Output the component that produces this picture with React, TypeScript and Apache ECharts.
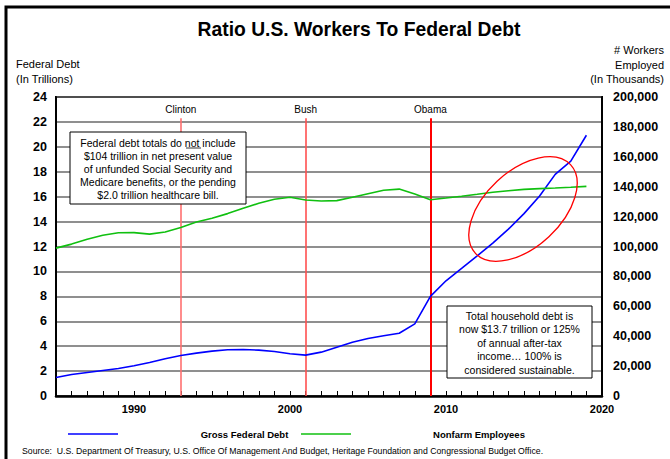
import React, { useEffect, useRef } from "react";
import * as echarts from "echarts";

const years = [1985, 1986, 1987, 1988, 1989, 1990, 1991, 1992, 1993, 1994, 1995, 1996, 1997, 1998, 1999, 2000, 2001, 2002, 2003, 2004, 2005, 2006, 2007, 2008, 2009, 2010, 2011, 2012, 2013, 2014, 2015, 2016, 2017, 2018, 2019];
// Gross federal debt, trillions
const debt = [1.49, 1.73, 1.89, 2.05, 2.21, 2.43, 2.69, 2.99, 3.25, 3.44, 3.6, 3.71, 3.73, 3.68, 3.57, 3.39, 3.28, 3.52, 3.92, 4.32, 4.61, 4.83, 5.04, 5.79, 8.0, 9.25, 10.24, 11.25, 12.27, 13.39, 14.64, 16.05, 17.79, 18.85, 20.93];
// Nonfarm employees, thousands
const employees = [98900, 101600, 104900, 107500, 109200, 109300, 108300, 109700, 112700, 116400, 118900, 122000, 125600, 128900, 131600, 132900, 131100, 130400, 130700, 132900, 135300, 137600, 138400, 135100, 131300, 132400, 133600, 134900, 136300, 137300, 138200, 138700, 139100, 139600, 140200];

const presidents = ["Clinton", "Bush", "Obama"];
const presidentYears = [1993, 2001, 2009];
const presidentColors = ["#ff7070", "#ff5050", "#ff0000"];

const seriesNames = ["Gross Federal Debt", "Nonfarm Employees"];
const FONT = "'Liberation Sans', Arial, sans-serif";

export default function App() {
  const ref = useRef<HTMLDivElement>(null);
  useEffect(() => {
    if (!ref.current) return;
    const chart = echarts.init(ref.current, undefined, { renderer: "svg" });
    const debtData = years.map((y, i) => [y, debt[i]]);
    const empData = years.map((y, i) => [y, employees[i]]);
    const markData = presidents.map((p, i) => [
      {
        name: p,
        coord: [presidentYears[i], 0],
        lineStyle: { color: presidentColors[i], width: i === 2 ? 2 : 1.6, type: "solid" },
      },
      { coord: [presidentYears[i], 22.3] },
    ]);
    chart.setOption({
      animation: false,
      backgroundColor: "#fff",
      textStyle: { fontFamily: FONT },
      grid: {
        left: 56,
        right: 68,
        top: 97,
        bottom: 63,
        show: true,
        borderColor: "#000",
        borderWidth: 2,
        backgroundColor: "transparent",
      },
      xAxis: {
        type: "value",
        min: 1985,
        max: 2020,
        interval: 1,
        axisLine: { lineStyle: { color: "#000", width: 2.5 } },
        axisTick: { show: true, inside: true, length: 5, lineStyle: { color: "#000", width: 1 } },
        splitLine: { show: false },
        axisLabel: {
          fontFamily: FONT,
          fontWeight: "bold",
          fontSize: 11,
          color: "#000",
          margin: 7,
          showMinLabel: true,
          showMaxLabel: true,
          formatter: (v: number) => (v % 10 === 0 ? String(v) : ""),
        },
      },
      yAxis: [
        {
          type: "value",
          min: 0,
          max: 24,
          interval: 2,
          axisLine: { show: true, lineStyle: { color: "#000", width: 2 } },
          axisTick: { show: false },
          splitLine: { show: true, lineStyle: { color: "#6a6a6a", width: 1.6 } },
          axisLabel: { fontFamily: FONT, fontWeight: "bold", fontSize: 12.5, color: "#000", margin: 9 },
        },
        {
          type: "value",
          min: 0,
          max: 200000,
          interval: 20000,
          position: "right",
          axisLine: { show: true, lineStyle: { color: "#000", width: 2 } },
          axisTick: { show: false },
          splitLine: { show: false },
          axisLabel: {
            fontFamily: FONT,
            fontWeight: "bold",
            fontSize: 12.5,
            color: "#000",
            margin: 11,
            formatter: (v: number) => v.toLocaleString("en-US"),
          },
        },
      ],
      series: [
        {
          name: seriesNames[0],
          type: "line",
          yAxisIndex: 0,
          data: debtData,
          showSymbol: false,
          symbol: "none",
          lineStyle: { color: "#0000ff", width: 1.6 },
          z: 4,
          markLine: {
            silent: true,
            symbol: ["none", "none"],
            z: 1,
            label: {
              show: true,
              position: "end",
              formatter: "{b}",
              fontFamily: FONT,
              fontSize: 10,
              color: "#000",
              distance: 4,
            },
            data: markData,
          },
        },
        {
          name: seriesNames[1],
          type: "line",
          yAxisIndex: 1,
          data: empData,
          showSymbol: false,
          symbol: "none",
          lineStyle: { color: "#10c010", width: 1.6 },
          z: 4,
        },
      ],
      graphic: [
        {
          type: "rect",
          shape: { x: 6, y: 7, width: 700, height: 480 },
          style: { fill: "none", stroke: "#000", lineWidth: 3 },
          z: 100,
          silent: true,
        },
        {
          type: "text",
          x: 359,
          y: 29,
          style: {
            text: "Ratio U.S. Workers To Federal Debt",
            fontFamily: FONT,
            fontWeight: "bold",
            fontSize: 19.3,
            fill: "#000",
            textAlign: "center",
            textVerticalAlign: "middle",
          },
        },
        {
          type: "text",
          x: 16,
          y: 71.5,
          style: {
            text: "Federal Debt\n(In Trillions)",
            fontFamily: FONT,
            fontSize: 11,
            lineHeight: 15,
            fill: "#000",
            textAlign: "left",
            textVerticalAlign: "middle",
          },
        },
        {
          type: "text",
          x: 664,
          y: 64.5,
          style: {
            text: "# Workers\nEmployed\n(In Thousands)",
            fontFamily: FONT,
            fontSize: 11,
            lineHeight: 14.5,
            fill: "#000",
            textAlign: "right",
            textVerticalAlign: "middle",
          },
        },
        {
          type: "rect",
          z: 50,
          shape: { x: 70, y: 132, width: 176, height: 72 },
          style: { fill: "#fff", stroke: "#000", lineWidth: 1 },
        },
        {
          type: "text",
          z: 51,
          x: 158,
          y: 168.5,
          style: {
            text: "Federal debt totals do not include\n$104 trillion in net present value\nof unfunded Social Security and\nMedicare benefits, or the pending\n$2.0 trillion healthcare bill.",
            fontFamily: FONT,
            fontSize: 10.5,
            lineHeight: 13,
            fill: "#000",
            textAlign: "center",
            textVerticalAlign: "middle",
          },
        },
        {
          type: "line",
          z: 52,
          shape: { x1: 186, y1: 148, x2: 201, y2: 148 },
          style: { stroke: "#000", lineWidth: 0.8 },
        },
        {
          type: "rect",
          z: 50,
          shape: { x: 447, y: 306, width: 145, height: 72 },
          style: { fill: "#fff", stroke: "#000", lineWidth: 1 },
        },
        {
          type: "text",
          z: 51,
          x: 519.5,
          y: 342.5,
          style: {
            text: "Total household debt is\nnow $13.7 trillion or 125%\nof annual after-tax\nincome\u2026 100% is\nconsidered sustainable.",
            fontFamily: FONT,
            fontSize: 10.5,
            lineHeight: 13.5,
            fill: "#000",
            textAlign: "center",
            textVerticalAlign: "middle",
          },
        },
        {
          type: "ellipse",
          z: 60,
          x: 523,
          y: 209,
          rotation: (43 * Math.PI) / 180,
          shape: { cx: 0, cy: 0, rx: 65, ry: 38 },
          style: { fill: "none", stroke: "#ff0000", lineWidth: 1.3 },
        },
        {
          type: "line",
          shape: { x1: 68, y1: 434, x2: 118, y2: 434 },
          style: { stroke: "#0000ff", lineWidth: 1.5 },
        },
        {
          type: "text",
          x: 244.5,
          y: 434,
          style: {
            text: seriesNames[0],
            fontFamily: FONT,
            fontWeight: "bold",
            fontSize: 9.5,
            fill: "#000",
            textAlign: "center",
            textVerticalAlign: "middle",
          },
        },
        {
          type: "line",
          shape: { x1: 301, y1: 434, x2: 351, y2: 434 },
          style: { stroke: "#10c010", lineWidth: 1.5 },
        },
        {
          type: "text",
          x: 479,
          y: 434,
          style: {
            text: seriesNames[1],
            fontFamily: FONT,
            fontWeight: "bold",
            fontSize: 9.5,
            fill: "#000",
            textAlign: "center",
            textVerticalAlign: "middle",
          },
        },
        {
          type: "text",
          x: 22,
          y: 451,
          style: {
            text: "Source:  U.S. Department Of Treasury, U.S. Office Of Management And Budget, Heritage Foundation and Congressional Budget Office.",
            fontFamily: FONT,
            fontSize: 8.7,
            fill: "#000",
            textAlign: "left",
            textVerticalAlign: "middle",
          },
        },
      ],
    });
    return () => chart.dispose();
  }, []);
  return (
    <div
      ref={ref}
      style={{ position: "absolute", left: 0, top: 0, width: 670, height: 459, background: "#fff" }}
    />
  );
}
